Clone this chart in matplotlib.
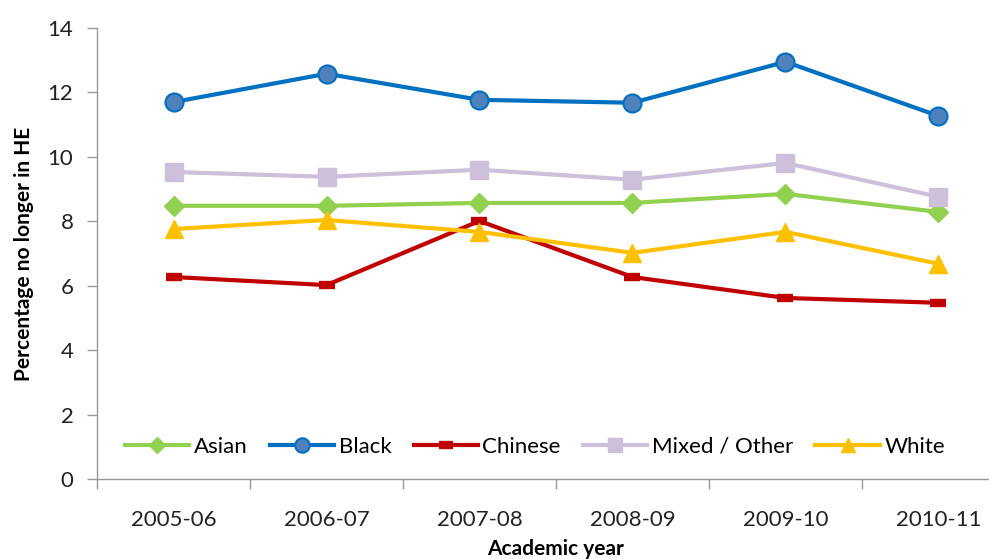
import numpy as np
import matplotlib.pyplot as plt
from matplotlib.ticker import FixedLocator, NullFormatter

plt.rcParams['font.family'] = ['Lato', 'DejaVu Sans']

years = ['2005-06', '2006-07', '2007-08', '2008-09', '2009-10', '2010-11']
asian = [8.48, 8.48, 8.57, 8.57, 8.85, 8.29]
black = [11.70, 12.58, 11.77, 11.68, 12.95, 11.27]
chinese = [6.27, 6.02, 8.01, 6.27, 5.62, 5.47]
mixed = [9.53, 9.38, 9.60, 9.29, 9.81, 8.76]
white = [7.76, 8.04, 7.67, 7.02, 7.67, 6.68]

fig = plt.figure(figsize=(9.89, 5.59), dpi=100)
# plot area runs a little past the right edge of the canvas
ax = fig.add_axes([97 / 989, 1 - 479 / 559, 918 / 989, 451 / 559])

x = np.arange(len(years))
ax.plot(x, asian, color='#92D050', lw=3, marker='D', ms=10,
        mfc='#92D050', mec='#92D050', label='Asian')
ax.plot(x, black, color='#0070C0', lw=3, marker='o', ms=13,
        mfc='#4F81BD', mec='#0070C0', mew=1.5, label='Black')
ax.plot(x, chinese, color='#C00000', lw=3, marker='_', ms=12,
        mew=6, mec='#C00000', label='Chinese')
ax.plot(x, mixed, color='#CCC0DA', lw=3, marker='s', ms=13,
        mfc='#CCC0DA', mec='#CCC0DA', label='Mixed / Other')
ax.plot(x, white, color='#FFC000', lw=3, marker='^', ms=13,
        mfc='#FFC000', mec='#FFC000', label='White')

ax.set_xlim(-0.5, 5.5)
ax.set_ylim(0, 14)
ax.set_yticks(np.arange(0, 15, 2))
ax.set_xticks(x)
ax.set_xticklabels(years)
ax.xaxis.set_minor_locator(FixedLocator(np.arange(-0.5, 6, 1)))
ax.xaxis.set_minor_formatter(NullFormatter())
ax.tick_params(axis='x', which='major', length=0, pad=22, labelsize=16, colors='#222222')
ax.tick_params(axis='x', which='minor', length=7, color='#999999', width=1)
ax.tick_params(axis='y', length=7, color='#999999', width=1, labelsize=16,
               labelcolor='#222222', pad=10)

for s in ['top', 'right']:
    ax.spines[s].set_visible(False)
for s in ['left', 'bottom']:
    ax.spines[s].set_color('#999999')
    ax.spines[s].set_linewidth(1)

ax.set_ylabel('Percentage no longer in HE', fontsize=15, fontweight='bold', labelpad=10)
ax.set_xlabel('Academic year', fontsize=15, fontweight='bold', labelpad=7)

ax.legend(loc='center', bbox_to_anchor=(0.477, 0.071), ncol=5, frameon=False,
          fontsize=16, handlelength=2.9, handletextpad=0.2, columnspacing=1.0,
          markerscale=0.8, borderpad=0)

fig.savefig('out.png', dpi=100)
